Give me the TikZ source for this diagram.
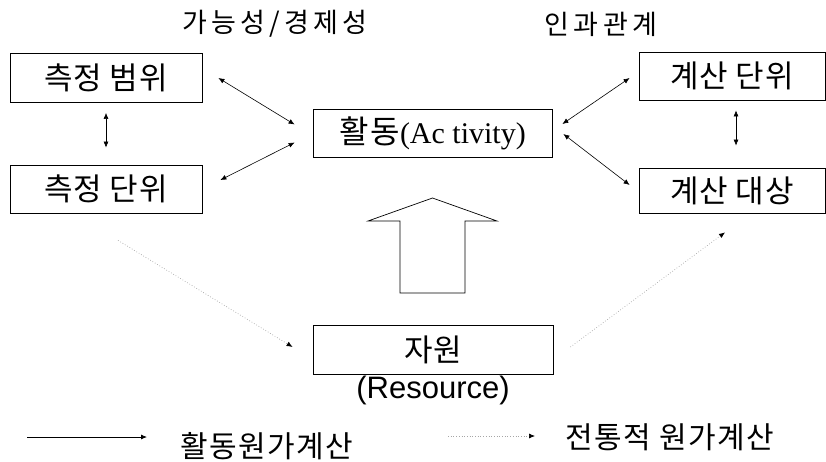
\documentclass[tikz,border=0pt]{standalone}
\usepackage{fontspec}
\setmainfont{Liberation Serif}
\newfontfamily\krbox[LetterSpace=3]{Noto Sans CJK KR}
\newfontfamily\krwide[LetterSpace=16]{Noto Sans CJK KR}
\newfontfamily\krleg[LetterSpace=5]{Noto Sans CJK KR}
\newfontfamily\kract[LetterSpace=6]{Noto Sans CJK KR}
\newfontfamily\arial{Liberation Sans}
\newfontfamily\timesfam{Liberation Serif}
\usetikzlibrary{arrows.meta,calc}
\tikzset{
  box/.style={draw=black, line width=0.8pt, minimum height=48pt, inner sep=0pt, font=\krbox\fontsize{31}{34}\selectfont},
  biarrow/.style={{Latex[length=6pt,width=5pt]}-{Latex[length=6pt,width=5pt]}, line width=0.6pt},
  trad/.style={-{Latex[length=6pt,width=5pt,color=black]}, draw=gray!70, dotted, line width=0.7pt},
  abc/.style={-{Latex[length=6pt,width=5pt]}, line width=0.8pt},
  title/.style={font=\krwide\fontsize{27}{30}\selectfont, inner sep=0pt},
  legtext/.style={font=\krleg\fontsize{30}{32}\selectfont, inner sep=0pt},
}
\begin{document}
\begin{tikzpicture}[x=1pt,y=-1pt]
\useasboundingbox (0,0) rectangle (826,461);
\node[title] (t1) at (275,24) {가능성/경제성};
\node[title] (t2) at (601,24) {인과관계};
\node[box, minimum width=192pt, minimum height=49pt] (b1) at (106,78) {측정 범위};
\node[box, minimum width=192pt] (b2) at (106,189) {측정 단위};
\node[box, minimum width=239pt] (act) at (432.5,133.5) {\kract\fontsize{32}{34}\selectfont 활동{\timesfam\fontsize{30}{32}\selectfont(Ac tivity)}};
\node[box, minimum width=186pt] (c1) at (732,76) {계산 단위};
\node[box, minimum width=186pt, minimum height=45pt] (c2) at (732,190.5) {계산 대상};
\node[box, minimum width=240pt, minimum height=49pt] (res) at (433,349.5) {자원};
\node[font=\arial\fontsize{31}{34}\selectfont, inner sep=0pt] (rl) at (433,390) {(Resource)};
% big arrow
\draw[line width=0.7pt] (400,293) -- (400,221) -- (368,221) -- (432.5,198) -- (497,221) -- (465,221) -- (465,293) -- cycle;
% connectors
\draw[biarrow] ([xshift=16pt]b1.east) -- ([xshift=-18pt,yshift=9pt]act.west);
\draw[biarrow] ([xshift=18pt,yshift=9pt]b2.east) -- ([xshift=-18pt,yshift=-9pt]act.west);
\draw[biarrow] ([yshift=-10pt]b1.south) -- ([yshift=17pt]b2.north);
\draw[biarrow] ([xshift=10pt,yshift=9.5pt]act.east) -- ([xshift=-9pt,yshift=-2pt]c1.west);
\draw[biarrow] ([xshift=11pt,yshift=-0.5pt]act.east) -- ([xshift=-9pt,yshift=5.5pt]c2.west);
\draw[biarrow] ([xshift=4pt,yshift=-10pt]c1.south) -- ([xshift=4pt,yshift=22pt]c2.north);
\draw[trad] ([xshift=12pt,yshift=-27pt]b2.south) -- ([xshift=-20pt,yshift=2.5pt]res.west);
\draw[trad] ([xshift=17pt,yshift=2.5pt]res.east) -- ([xshift=-7pt,yshift=-19pt]c2.south);
% legend
\coordinate (l1a) at (27,437);
\coordinate (l1b) at (147,437);
\coordinate (l2a) at (448,436);
\coordinate (l2b) at (535,436);
\draw[abc] (l1a) -- (l1b);
\draw[trad] (l2a) -- (l2b);
\node[legtext] (lt1) at (267,446) {활동원가계산};
\node[legtext] (lt2) at (670,437) {전통적 원가계산};
\end{tikzpicture}
\end{document}
